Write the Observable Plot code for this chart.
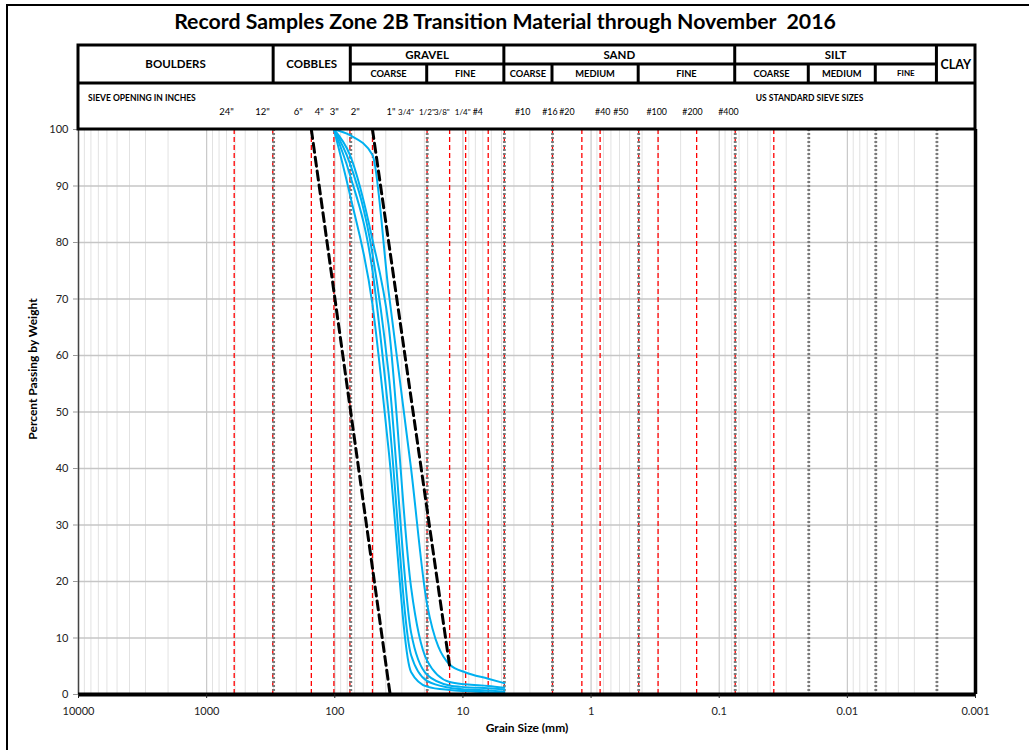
<!DOCTYPE html>
<html>
<head>
<meta charset="utf-8">
<script src="https://cdn.jsdelivr.net/npm/d3@7"></script>
<script src="https://cdn.jsdelivr.net/npm/@observablehq/plot@0.6"></script>
<style>
  body { margin: 0; background: #fff; }
  svg { display: block; }
</style>
</head>
<body>
<div id="chart"></div>
<script>
// Sieve sizes (mm) at which each record sample was graded
const sieveSizes = [101.6, 76.2, 50.8, 38.1, 25.4, 19.05, 12.7, 9.525, 6.35, 4.75];

// Percent passing by weight for each record sample
const sample1 = [100, 88.5, 69, 43.5, 4, 1.4, 0.8, 0.6, 0.4, 0.2];
const sample2 = [100, 92, 75, 50, 7, 2.4, 1.2, 0.9, 0.7, 0.5];
const sample3 = [100, 94, 78, 57, 11, 3.5, 1.6, 1.3, 1.1, 0.9];
const sample4 = [100, 95.5, 80.5, 65.5, 19, 6, 2.2, 1.8, 1.5, 1.2];
const sample5 = [100, 99, 95.5, 71.5, 40, 16, 5.3, 3.9, 2.8, 2.0];
const samples = [sample1, sample2, sample3, sample4, sample5];

// Specification band limits (size mm, percent passing)
const coarseLimitSizes = [152.4, 37];
const coarseLimitPct = [100, 0];
const fineLimitSizes = [50.8, 12.7];
const fineLimitPct = [100, 5];

// Sieve openings drawn as reference lines (mm)
const sieveLineSizes = [609.6, 304.8, 152.4, 101.6, 76.2, 50.8, 19.05, 12.7, 9.525, 6.35, 4.75,
  2.0, 1.18, 0.85, 0.425, 0.3, 0.15, 0.075, 0.0375];

// Sieve labels
const inchLabels = ['24"', '12"', '6"', '4"', '3"', '2"', '1"', '3/4"', '1/2"', '3/8"', '1/4"'];
const inchLabelSizes = [609.6, 304.8, 152.4, 101.6, 76.2, 50.8, 25.4, 19.05, 12.7, 9.525, 6.35];
const sieveNoLabels = ["#4", "#10", "#16", "#20", "#40", "#50", "#100", "#200", "#400"];
const sieveNoSizes = [4.75, 2.0, 1.18, 0.85, 0.425, 0.3, 0.15, 0.075, 0.0375];

// Soil classification boundaries (mm)
const classBoundaries = [300, 75, 19, 4.75, 2.0, 0.425, 0.075, 0.02, 0.006, 0.002];
const mainClassNames = ["BOULDERS", "COBBLES", "GRAVEL", "SAND", "SILT", "CLAY"];
const mainClassEdges = [10000, 300, 75, 4.75, 0.075, 0.002, 0.001];
const subClassNames = ["COARSE", "FINE", "COARSE", "MEDIUM", "FINE", "COARSE", "MEDIUM", "FINE"];
const subClassEdges = [[75, 19], [19, 4.75], [4.75, 2.0], [2.0, 0.425], [0.425, 0.075], [0.075, 0.02], [0.02, 0.006], [0.006, 0.002]];

// Axis ticks
const xTicks = [10000, 1000, 100, 10, 1, 0.1, 0.01, 0.001];
const yTicks = [0, 10, 20, 30, 40, 50, 60, 70, 80, 90, 100];

// Build tidy tables for the library
const sampleRows = samples.flatMap((s, i) => s.map((p, j) => ({sample: i + 1, size: sieveSizes[j], pct: p})));
const limitRows = [
  ...coarseLimitSizes.map((d, i) => ({band: "coarse", size: d, pct: coarseLimitPct[i]})),
  ...fineLimitSizes.map((d, i) => ({band: "fine", size: d, pct: fineLimitPct[i]}))
];
const minorGrid = [];
for (let k = -3; k <= 3; k++) for (let m = 2; m <= 9; m++) minorGrid.push(m * Math.pow(10, k));

const FONT = "Lato, 'Open Sans', 'Liberation Sans', sans-serif";

const plot = Plot.plot({
  width: 1029,
  height: 750,
  marginLeft: 78,
  marginRight: 54,
  marginTop: 129,
  marginBottom: 56,
  style: {fontFamily: FONT, fontSize: "11px", color: "#222", background: "#fff"},
  x: {type: "log", domain: [10000, 0.001]},
  y: {domain: [0, 100]},
  marks: [
    // grid
    Plot.ruleX(minorGrid, {stroke: "#e2e2e2", strokeWidth: 1}),
    Plot.ruleX(xTicks, {stroke: "#c8c8c8", strokeWidth: 1.2}),
    Plot.ruleY(yTicks.slice(1, -1), {stroke: "#c6c6c6", strokeWidth: 1.5}),
    // sieve openings and classification boundaries
    Plot.ruleX(sieveLineSizes, {stroke: "#ff0000", strokeWidth: 1.3, strokeDasharray: "5,3"}),
    Plot.ruleX(classBoundaries, {stroke: "#7a7a7a", strokeWidth: 2.8, strokeDasharray: "2,2"}),
    // record samples
    Plot.line(sampleRows, {x: "size", y: "pct", z: "sample", stroke: "#00b0f0", strokeWidth: 2, curve: "monotone-x"}),
    // specification limits
    Plot.line(limitRows, {x: "size", y: "pct", z: "band", stroke: "#000", strokeWidth: 3, strokeDasharray: "9,5"}),
    // frame
    Plot.ruleX([10000], {stroke: "#444", strokeWidth: 1.5}),
    Plot.ruleX([0.001], {stroke: "#000", strokeWidth: 3.5}),
    Plot.ruleY([0], {stroke: "#000", strokeWidth: 4}),
    // axes
    Plot.axisY({ticks: yTicks, tickSize: 5, tickPadding: 5, label: null, fontSize: 11, stroke: "#999"}),
    Plot.axisX({ticks: xTicks, tickSize: 4, tickPadding: 9, label: null, fontSize: 11, tickFormat: d => String(d)}),
    Plot.text(["Percent Passing by Weight"], {frameAnchor: "left", textAnchor: "middle", rotate: -90, dx: -45, dy: -43, fontWeight: "bold", fontSize: 12, fill: "#000"}),
    Plot.text(["Grain Size (mm)"], {frameAnchor: "bottom", textAnchor: "middle", dy: 37, fontWeight: "bold", fontSize: 12, fill: "#000"})
  ]
});

document.getElementById("chart").appendChild(plot);

// Title and classification header, positioned with the plot's x scale
const svg = d3.select(plot);
const xs = v => plot.scale("x").apply(v);
const xLeft = xs(10000), xRight = xs(0.001);
const yTop = 45, yMid = 64, yRow = 83, yBottom = 129;

const g = svg.append("g").attr("font-family", FONT).attr("fill", "#000").attr("text-anchor", "start");

// outer page border
g.append("path").attr("d", "M7,750V5H1029").attr("fill", "none").attr("stroke", "#000").attr("stroke-width", 2);

g.append("text").attr("x", 505).attr("y", 29).attr("text-anchor", "middle")
  .attr("font-weight", "bold").attr("font-size", 21.3).text("Record Samples Zone 2B Transition Material through November  2016");

const line = (x1, y1, x2, y2, w = 3) => g.append("line").attr("x1", x1).attr("y1", y1).attr("x2", x2).attr("y2", y2)
  .attr("stroke", "#000").attr("stroke-width", w);

g.append("rect").attr("x", xLeft).attr("y", yTop).attr("width", xRight - xLeft).attr("height", yBottom - yTop)
  .attr("fill", "none").attr("stroke", "#000").attr("stroke-width", 3);
line(xLeft, yRow, xRight, yRow);
line(xs(75), yMid, xs(0.002), yMid);
[300, 75, 4.75, 0.075, 0.002].forEach(d => line(xs(d), yTop, xs(d), yRow));
[19, 2.0, 0.425, 0.02, 0.006].forEach(d => line(xs(d), yMid, xs(d), yRow));

const hasSub = new Set(["GRAVEL", "SAND", "SILT"]);
mainClassNames.forEach((name, i) => {
  const cx = (xs(mainClassEdges[i]) + xs(mainClassEdges[i + 1])) / 2;
  const cy = hasSub.has(name) ? (yTop + yMid) / 2 : (yTop + yRow) / 2;
  g.append("text").attr("x", cx).attr("y", cy).attr("dy", "0.36em").attr("text-anchor", "middle")
    .attr("font-weight", "bold").attr("font-size", name === "CLAY" ? 12.5 : 11.5).text(name);
});
subClassNames.forEach((name, i) => {
  const [a, b] = subClassEdges[i];
  g.append("text").attr("x", (xs(a) + xs(b)) / 2).attr("y", (yMid + yRow) / 2).attr("dy", "0.36em")
    .attr("text-anchor", "middle").attr("font-weight", "bold").attr("font-size", name === "FINE" && a < 0.01 ? 8 : 9.3).text(name);
});

g.append("text").attr("x", xLeft + 10).attr("y", 98).attr("dy", "0.36em").attr("font-weight", "bold")
  .attr("font-size", 8.5).text("SIEVE OPENING IN INCHES");
g.append("text").attr("x", xs(0.075) + 21).attr("y", 98).attr("dy", "0.36em").attr("font-weight", "bold")
  .attr("font-size", 8.5).text("US STANDARD SIEVE SIZES");

// The sieve label row is laid out slightly condensed toward the left of its cell
const labelPivot = 132, labelSqueeze = 0.93;
const labelX = d => labelPivot + (xs(d) - labelPivot) * labelSqueeze;
inchLabels.forEach((t, i) => {
  const small = t.includes("/");
  g.append("text").attr("x", labelX(inchLabelSizes[i])).attr("y", 112).attr("dy", "0.36em")
    .attr("text-anchor", "middle").attr("font-size", small ? 8 : 9.5).text(t);
});
sieveNoLabels.forEach((t, i) => {
  g.append("text").attr("x", labelX(sieveNoSizes[i])).attr("y", 112).attr("dy", "0.36em")
    .attr("text-anchor", "middle").attr("font-size", 8.8).text(t);
});
</script>
</body>
</html>
